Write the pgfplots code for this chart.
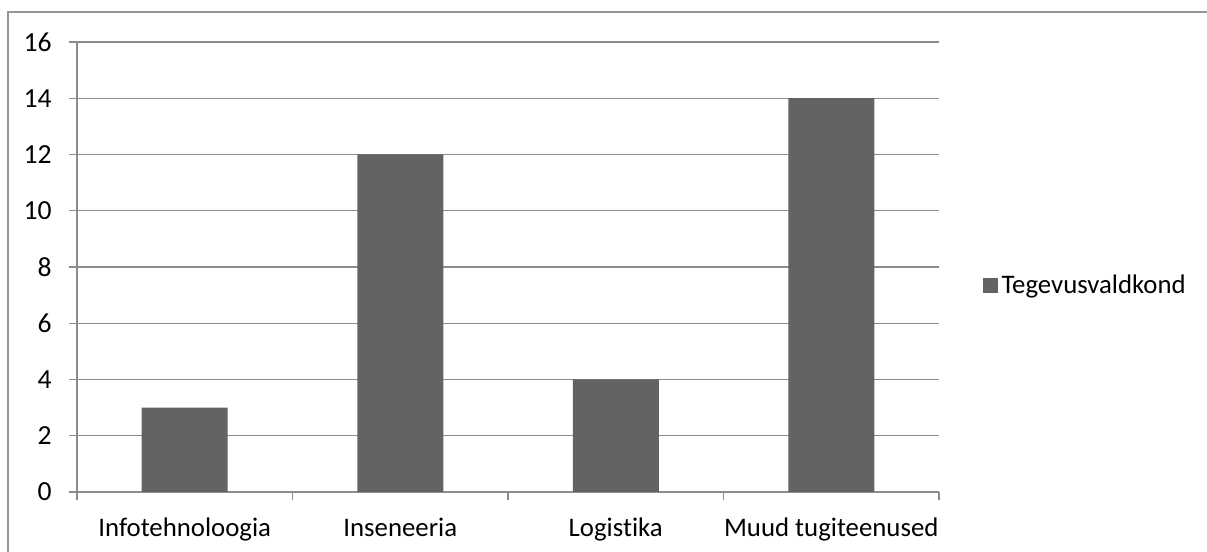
\documentclass[border=0pt]{standalone}
\usepackage{fontspec}
\setmainfont{Carlito}[Ligatures={NoCommon}]
\usepackage{pgfplots}
\pgfplotsset{compat=1.18}
\definecolor{barcol}{RGB}{99,99,99}
\definecolor{gridcol}{RGB}{140,140,140}
\definecolor{framecol}{RGB}{150,150,150}
\begin{document}
\fontsize{13.4pt}{15pt}\selectfont
\begin{tikzpicture}
\path[use as bounding box] (0,0) rectangle (603.5pt,276pt);
\draw[framecol, line width=0.7pt] (4pt,0) -- (4pt,270pt) -- (603.5pt,270pt);
\begin{axis}[
  at={(38.5pt,30pt)}, anchor=south west,
  scale only axis, width=431pt, height=225pt,
  xmin=-0.5, xmax=3.5, ymin=0, ymax=16,
  ytick={0,2,...,16},
  xtick={0,1,2,3},
  xticklabels={Infotehnoloogia,Inseneeria,Logistika,Muud tugiteenused},
  minor xtick={-0.5,0.5,1.5,2.5,3.5},
  axis x line*=bottom, axis y line*=left,
  axis line style={gridcol, line width=0.6pt},
  ymajorgrids, grid style={gridcol, line width=0.6pt},
  tick align=outside,
  major tick length=4pt, minor tick length=4pt,
  x tick style={draw=none},
  minor x tick style={draw=gridcol, line width=0.6pt},
  y tick style={gridcol, line width=0.6pt},
  /pgf/number format/assume math mode=true,
  tick label style={font=\fontsize{13.4pt}{15pt}\selectfont, text=black},
  x tick label style={yshift=-4pt, text height=9.5pt, text depth=3pt},
  y tick label style={xshift=-4pt, font=\fontsize{13.8pt}{15pt}\selectfont},
  legend style={at={(1.05,0.458)}, anchor=west, draw=none, fill=none, inner sep=0pt,
    font=\fontsize{13.4pt}{15pt}\selectfont},
  legend image code/.code={\fill[barcol] (0pt,-3.75pt) rectangle (7.5pt,3.75pt);},
  legend cell align=left,
]
\addplot[ybar, bar width=43pt, fill=barcol, draw=none] coordinates {(0,3) (1,12) (2,4) (3,14)};
\addlegendentry{Tegevusvaldkond}
\end{axis}
\end{tikzpicture}
\end{document}
